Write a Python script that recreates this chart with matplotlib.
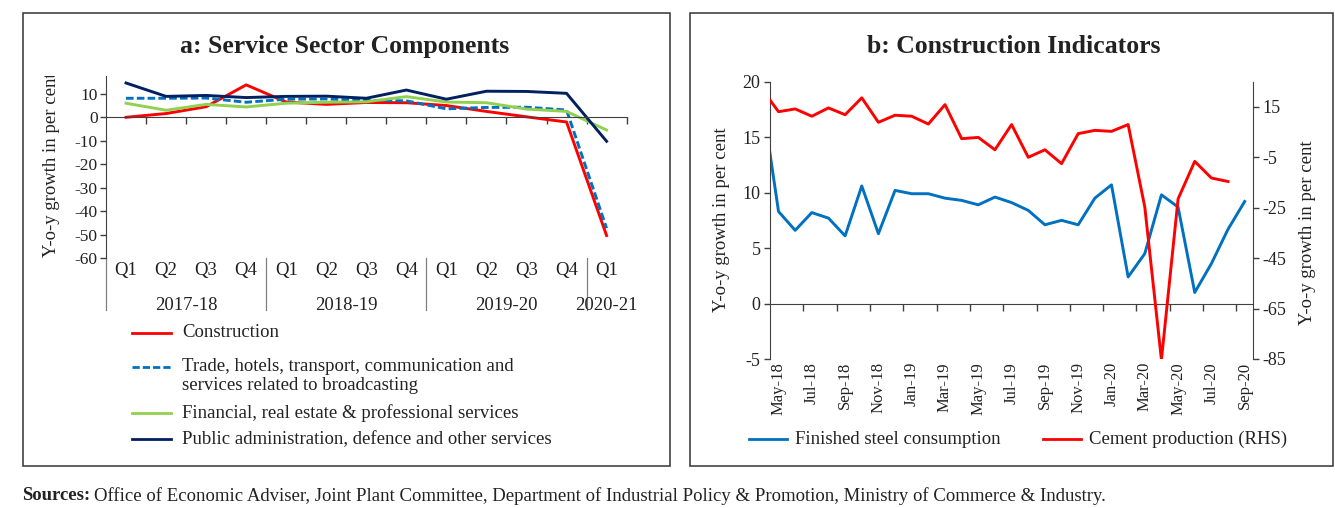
import numpy as np
import matplotlib
matplotlib.use("Agg")
import matplotlib.pyplot as plt
from matplotlib.lines import Line2D
from matplotlib.patches import Rectangle
from matplotlib.transforms import blended_transform_factory

plt.rcParams['font.family'] = ['Liberation Serif', 'DejaVu Serif']
plt.rcParams['axes.unicode_minus'] = False

# ---- Panel a: service sector components (y-o-y growth, per cent) ----
quarters = ["Q1", "Q2", "Q3", "Q4", "Q1", "Q2", "Q3", "Q4",
            "Q1", "Q2", "Q3", "Q4", "Q1"]
fiscal_years = ["2017-18", "2018-19", "2019-20", "2020-21"]
quarters_per_year = [4, 4, 4, 1]
construction = [0.0, 1.6, 4.5, 13.8, 6.5, 5.5, 6.3, 6.2, 5.0, 2.5, 0.2, -2.0, -50.3]
trade = [8.1, 8.1, 8.2, 6.4, 7.7, 7.8, 7.2, 7.0, 3.6, 4.2, 4.3, 3.1, -47.2]
financial = [6.0, 3.0, 5.5, 4.4, 6.0, 6.4, 6.6, 8.8, 6.5, 6.2, 3.5, 2.5, -5.4]
public_admin = [14.6, 8.9, 9.3, 8.4, 8.9, 9.0, 8.1, 11.6, 7.7, 11.1, 11.0, 10.2, -10.2]

# ---- Panel b: construction indicators (y-o-y growth, per cent) ----
months = ["Apr-18", "May-18", "Jun-18", "Jul-18", "Aug-18", "Sep-18", "Oct-18",
          "Nov-18", "Dec-18", "Jan-19", "Feb-19", "Mar-19", "Apr-19", "May-19",
          "Jun-19", "Jul-19", "Aug-19", "Sep-19", "Oct-19", "Nov-19", "Dec-19",
          "Jan-20", "Feb-20", "Mar-20", "Apr-20", "May-20", "Jun-20", "Jul-20",
          "Aug-20", "Sep-20"]
steel = [18.5, 8.3, 6.6, 8.2, 7.7, 6.1, 10.6, 6.3, 10.2, 9.9, 9.9, 9.5, 9.3, 8.9,
         9.6, 9.1, 8.4, 7.1, 7.5, 7.1, 9.5, 10.7, 2.4, 4.5, 9.8, 8.7, 1.0, 3.6,
         6.7, 9.2]
cement = [22.1, 13.1, 14.2, 11.3, 14.6, 11.9, 18.6, 8.9, 11.7, 11.3, 8.2, 15.9,
          2.4, 2.9, -2.0, 8.0, -5.0, -2.0, -7.5, 4.4, 5.7, 5.3, 8.0, -24.7,
          -85.3, -21.5, -6.6, -13.2, -14.6, np.nan]

RED = "#FF0000"
BLUE = "#0070C0"
GREEN = "#92D050"
NAVY = "#002060"
AXIS = "#404040"
SEP = "#808080"
TXT = "#222222"
LW = 2.1
FS_LEG = 13.5

W, H = 1335, 508
fig = plt.figure(figsize=(W / 100, H / 100), dpi=100)


def fx(px):
    return px / W


def fy(py):
    return 1 - py / H


def frame(x0, y0, x1, y1):
    fig.add_artist(Rectangle((fx(x0), fy(y1)), fx(x1) - fx(x0), (y1 - y0) / H,
                             transform=fig.transFigure, fill=False,
                             edgecolor="#333333", lw=1.1, zorder=6))


def legend_row(x0, x1, y, color, text, dashed=False, tx=None):
    ln = Line2D([fx(x0), fx(x1)], [fy(y), fy(y)], transform=fig.transFigure,
                color=color, lw=2.0)
    if dashed:
        ln.set_dashes((2.6, 1.1))
    fig.add_artist(ln)
    if text:
        fig.text(fx(tx), fy(y), text, ha="left", va="center", fontsize=FS_LEG,
                 color=TXT)


# ================= Panel a =================
axa = fig.add_axes([fx(106), fy(258.3), fx(626.6) - fx(106), (258.3 - 70.3) / H])
xa = np.arange(len(quarters))
axa.plot(xa, construction, color=RED, lw=LW)
ln_trade, = axa.plot(xa, trade, color=BLUE, lw=LW)
ln_trade.set_dashes((2.6, 1.1))
axa.plot(xa, financial, color=GREEN, lw=LW)
axa.plot(xa, public_admin, color=NAVY, lw=LW)
axa.set_xlim(-0.5, len(quarters) - 0.5)
axa.set_ylim(-60, 20)
axa.set_yticks(np.arange(-60, 21, 10))
for s in ("top", "right"):
    axa.spines[s].set_visible(False)
axa.spines["left"].set_color(AXIS)
axa.spines["bottom"].set_color(AXIS)
axa.spines["bottom"].set_position(("data", 0))
axa.set_xticks(np.arange(0.5, len(quarters), 1.0))
axa.set_xticklabels([])
axa.tick_params(axis="x", direction="out", length=5, color=AXIS, width=1)
axa.tick_params(axis="y", direction="out", length=4, color=AXIS, width=1,
                labelsize=12.5, labelcolor=TXT, pad=2)
axa.patch.set_alpha(0)

trans_a = blended_transform_factory(axa.transData, axa.transAxes)
for i, q in enumerate(quarters):
    axa.annotate(q, xy=(i, 0), xycoords=trans_a, xytext=(0, -12),
                 textcoords="offset pixels", ha="center", va="center",
                 fontsize=13.5, color=TXT, annotation_clip=False)
start = 0
for yr, n in zip(fiscal_years, quarters_per_year):
    mid = start + (n - 1) / 2
    axa.annotate(yr, xy=(mid, 0), xycoords=trans_a, xytext=(0, -47),
                 textcoords="offset pixels", ha="center", va="center",
                 fontsize=13.5, color=TXT, annotation_clip=False)
    sep = Line2D([start - 0.5, start - 0.5], [0, -52 / 188.0], transform=trans_a,
                 color=SEP, lw=0.9, clip_on=False)
    axa.add_line(sep)
    start += n

fig.text(fx(52), fy(257), "Y-o-y growth in per cent", rotation=90,
         ha="center", va="bottom", fontsize=FS_LEG, color=TXT)

# the upper edge of the plot area is trimmed just below the title
fig.add_artist(Rectangle((fx(30), fy(75.5)), fx(650) - fx(30), (75.5 - 60) / H,
                         transform=fig.transFigure, facecolor="white",
                         edgecolor="none", zorder=5))

fig.text(fx(345), fy(46), "a: Service Sector Components", ha="center",
         va="center", fontsize=18.5, fontweight="bold", color=TXT)

legend_row(132, 171, 332.7, RED, "Construction", tx=182)
legend_row(132, 171, 366.5, BLUE, "Trade, hotels, transport, communication and",
           dashed=True, tx=182)
fig.text(fx(182), fy(386), "services related to broadcasting", ha="left",
         va="center", fontsize=FS_LEG, color=TXT)
legend_row(132, 171, 412.7, GREEN, "Financial, real estate & professional services", tx=182)
legend_row(132, 171, 439.3, NAVY, "Public administration, defence and other services", tx=182)

frame(23, 12.5, 670, 466)

# ================= Panel b =================
axb = fig.add_axes([fx(770.2), fy(359), fx(1253) - fx(770.2), (359 - 81.7) / H])
xb = np.arange(len(months))
axb.plot(xb, steel, color=BLUE, lw=LW)
axb.set_xlim(0.5, len(months) - 0.5)
axb.set_ylim(-5, 20)
axb.set_yticks(np.arange(-5, 21, 5))
for s in ("top", "right"):
    axb.spines[s].set_visible(False)
axb.spines["left"].set_color(AXIS)
axb.spines["bottom"].set_color(AXIS)
axb.spines["bottom"].set_position(("data", 0))
axb.set_xticks(np.arange(2.5, len(months) - 1, 2.0))
axb.set_xticklabels([])
axb.tick_params(axis="x", direction="out", length=5, color=AXIS, width=1)
axb.tick_params(axis="y", direction="out", length=4, color=AXIS, width=1,
                labelsize=13, labelcolor=TXT, pad=3)

axr = axb.twinx()
axr.plot(xb, cement, color=RED, lw=LW)
axr.set_ylim(-85, 25)
axr.set_yticks(np.arange(-85, 16, 20))
for s in ("top", "bottom", "left"):
    axr.spines[s].set_visible(False)
axr.spines["right"].set_color(AXIS)
axr.tick_params(axis="y", direction="out", length=4, color=AXIS, width=1,
                labelsize=13, labelcolor=TXT, pad=3)
axr.set_xlim(0.5, len(months) - 0.5)

trans_b = blended_transform_factory(axb.transData, axb.transAxes)
for i in range(1, len(months), 2):
    axb.annotate(months[i], xy=(i, 0), xycoords=trans_b, xytext=(0, -3),
                 textcoords="offset pixels", ha="center", va="top",
                 rotation=90, fontsize=12, color=TXT, annotation_clip=False)

fig.text(fx(722), fy(220), "Y-o-y growth in per cent", rotation=90,
         ha="center", va="center", fontsize=FS_LEG, color=TXT)
fig.text(fx(1308), fy(233), "Y-o-y growth in per cent", rotation=90,
         ha="center", va="center", fontsize=FS_LEG, color=TXT)

fig.text(fx(1014), fy(46), "b: Construction Indicators", ha="center",
         va="center", fontsize=18.5, fontweight="bold", color=TXT)

legend_row(749, 787, 439, BLUE, "Finished steel consumption", tx=795)
legend_row(1043, 1081, 439, RED, "Cement production (RHS)", tx=1089)

frame(690, 12.5, 1333, 466)

# ================= Sources =================
src_bold = fig.text(fx(22), fy(496), "Sources:", ha="left", va="center",
                    fontsize=13.5, fontweight="bold", color=TXT)
fig.canvas.draw()
bb = src_bold.get_window_extent(renderer=fig.canvas.get_renderer())
fig.text(fx(bb.x1 + 4), fy(496),
         "Office of Economic Adviser, Joint Plant Committee, Department of "
         "Industrial Policy & Promotion, Ministry of Commerce & Industry.",
         ha="left", va="center", fontsize=13.5, color=TXT)

fig.savefig("out.png", dpi=100, facecolor="white")
